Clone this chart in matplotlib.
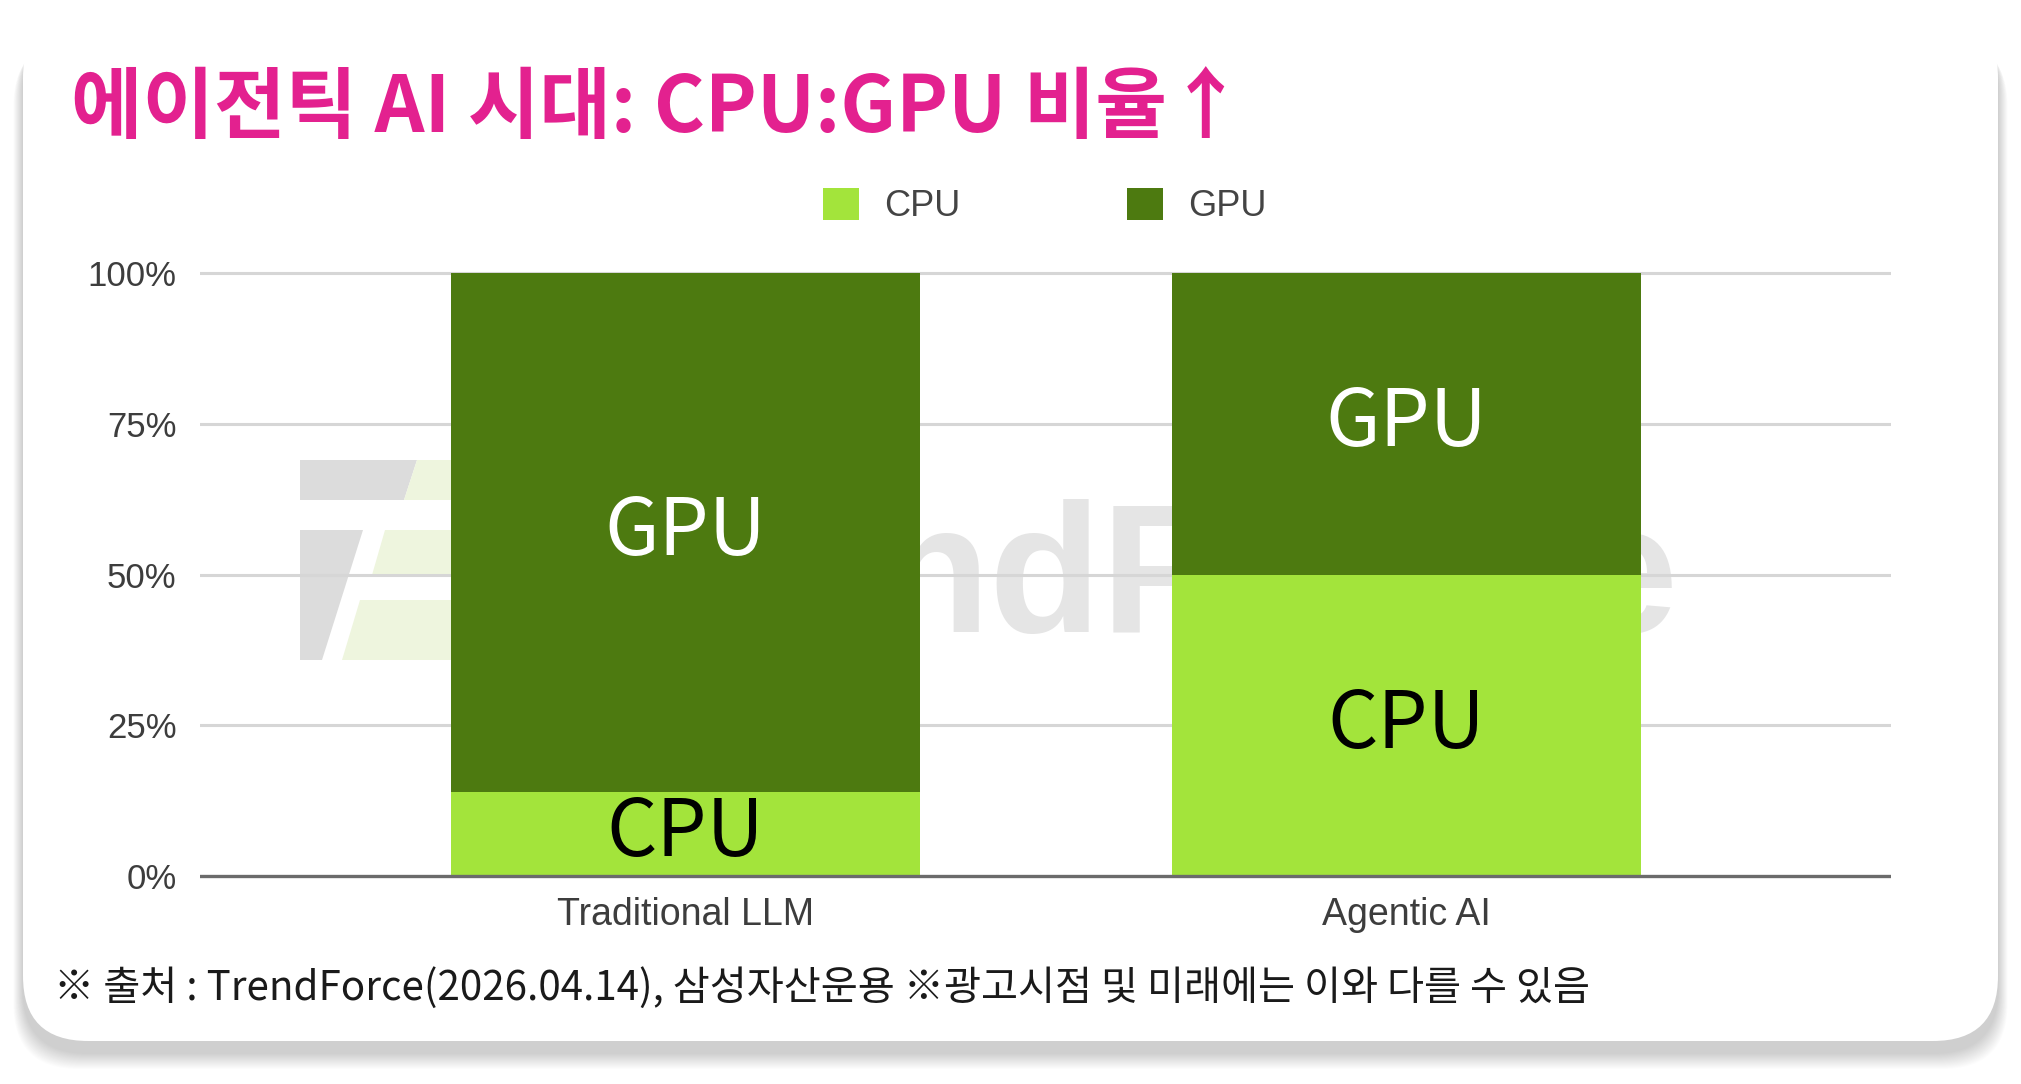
import matplotlib
matplotlib.use("Agg")
import matplotlib.pyplot as plt
from matplotlib.patches import FancyBboxPatch, Polygon
import numpy as np

# ---- data ----
categories = ["Traditional LLM", "Agentic AI"]
cpu_share = [0.14, 0.50]
gpu_share = [0.86, 0.50]
series_names = ["CPU", "GPU"]
ytick_values = [0, 0.25, 0.5, 0.75, 1.0]
ytick_labels = ["0%", "25%", "50%", "75%", "100%"]
title_text = "에이전틱 AI 시대: CPU:GPU 비율↑"
footer_text = "※ 출처 : TrendForce(2026.04.14), 삼성자산운용 ※광고시점 및 미래에는 이와 다를 수 있음"

CPU_COLOR = "#a3e43b"
GPU_COLOR = "#4d7a10"
TITLE_COLOR = "#e3218f"
KR = ["Noto Sans CJK KR", "DejaVu Sans"]
LAT = ["Liberation Sans", "DejaVu Sans"]

W, H = 2021, 1084
fig = plt.figure(figsize=(W / 100, H / 100), dpi=100)
fig.patch.set_facecolor("white")

# ---- background card (pixel coordinates, y up) ----
bg = fig.add_axes([0, 0, 1, 1], zorder=0)
bg.set_xlim(0, W)
bg.set_ylim(0, H)
bg.axis("off")
cx0, cx1 = 23, 1998
cy0, cy1 = H - 1041, H - 13
rad = 65
for i in range(16, 0, -1):
    sh = FancyBboxPatch((cx0 + rad - i * 0.6, cy0 + rad - 12 - i * 1.0),
                        (cx1 - cx0) - 2 * rad + i * 1.2, (cy1 - cy0) - 2 * rad,
                        boxstyle=f"round,pad={rad}", facecolor="black",
                        edgecolor="none", alpha=0.013)
    bg.add_patch(sh)
card = FancyBboxPatch((cx0 + rad, cy0 + rad), (cx1 - cx0) - 2 * rad, (cy1 - cy0) - 2 * rad,
                      boxstyle=f"round,pad={rad}", facecolor="white", edgecolor="none")
bg.add_patch(card)

# faint TrendForce watermark (decoration behind the bars)
wm_gray = "#dcdcdc"
wm_green = "#eef5de"
for pts, col in [
    ([(300, 460), (417, 460), (404, 500), (300, 500)], wm_gray),
    ([(300, 530), (363, 530), (322, 660), (300, 660)], wm_gray),
    ([(417, 460), (470, 460), (470, 500), (404, 500)], wm_green),
    ([(385, 530), (470, 530), (470, 575), (372, 575)], wm_green),
    ([(360, 600), (470, 600), (470, 660), (342, 660)], wm_green),
]:
    bg.add_patch(Polygon([(px, H - py) for px, py in pts], closed=True,
                         facecolor=col, edgecolor="none", joinstyle="round"))
bg.text(877, H - 632, "ndF", ha="left", va="baseline", fontsize=132,
        fontweight="bold", color="#e5e5e5", family=LAT)
bg.text(1678, H - 632, "e", ha="right", va="baseline", fontsize=132,
        fontweight="bold", color="#e5e5e5", family=LAT)

# ---- main axes ----
ylo, yhi = -0.01, 1.02
px_per_unit = 603
y0_px = 876
ax_bottom = 1 - (y0_px - ylo * px_per_unit) / H
ax_top = 1 - (y0_px - yhi * px_per_unit) / H
ax_left = 200 / W
ax_right = 1891 / W
ax = fig.add_axes([ax_left, ax_bottom, ax_right - ax_left, ax_top - ax_bottom], zorder=2)
ax.patch.set_alpha(0)

x = np.arange(len(categories))
bar_w = 0.65
ax.set_xlim(-0.673, 1.672)
ax.set_ylim(ylo, yhi)

for yv in ytick_values[1:]:
    ax.axhline(yv, color="#d6d6d6", lw=2.2, zorder=1)
ax.axhline(0, color="#6b6b6b", lw=2.4, zorder=4)

b1 = ax.bar(x, cpu_share, bar_w, color=CPU_COLOR, label=series_names[0], zorder=3)
b2 = ax.bar(x, gpu_share, bar_w, bottom=cpu_share, color=GPU_COLOR,
            label=series_names[1], zorder=3)

for i in range(len(categories)):
    ax.text(x[i], cpu_share[i] / 2, series_names[0], ha="center", va="center",
            fontsize=57, color="black", family=KR, zorder=5)
    ax.text(x[i], cpu_share[i] + gpu_share[i] / 2, series_names[1], ha="center",
            va="center", fontsize=57, color="white", family=KR, zorder=5)

ax.set_yticks(ytick_values)
ax.set_yticklabels(ytick_labels, family=LAT, fontsize=25, color="#3d3d3d")
ax.set_xticks(x)
ax.set_xticklabels(categories, family=LAT, fontsize=27, color="#3d3d3d")
ax.tick_params(axis="y", length=0, pad=17)
ax.tick_params(axis="x", length=0, pad=11)
for s in ax.spines.values():
    s.set_visible(False)

leg = fig.legend(handles=[b1, b2], labels=series_names, loc="center",
                 bbox_to_anchor=(0.517, 1 - 206 / H), ncol=2, frameon=False,
                 prop={"family": LAT, "size": 26}, handlelength=1.0,
                 handleheight=1.0, handletextpad=0.7, columnspacing=4.6)
for t in leg.get_texts():
    t.set_color("#444444")

fig.text(71 / W, 1 - 109 / H, title_text, ha="left", va="center", fontsize=56,
         color=TITLE_COLOR, family=KR, fontweight="bold", zorder=5)
fig.text(54 / W, 1 - 988 / H, footer_text, ha="left", va="center", fontsize=29,
         color="#1a1a1a", family=KR, zorder=5)

fig.savefig("out.png", dpi=100, facecolor="white")
